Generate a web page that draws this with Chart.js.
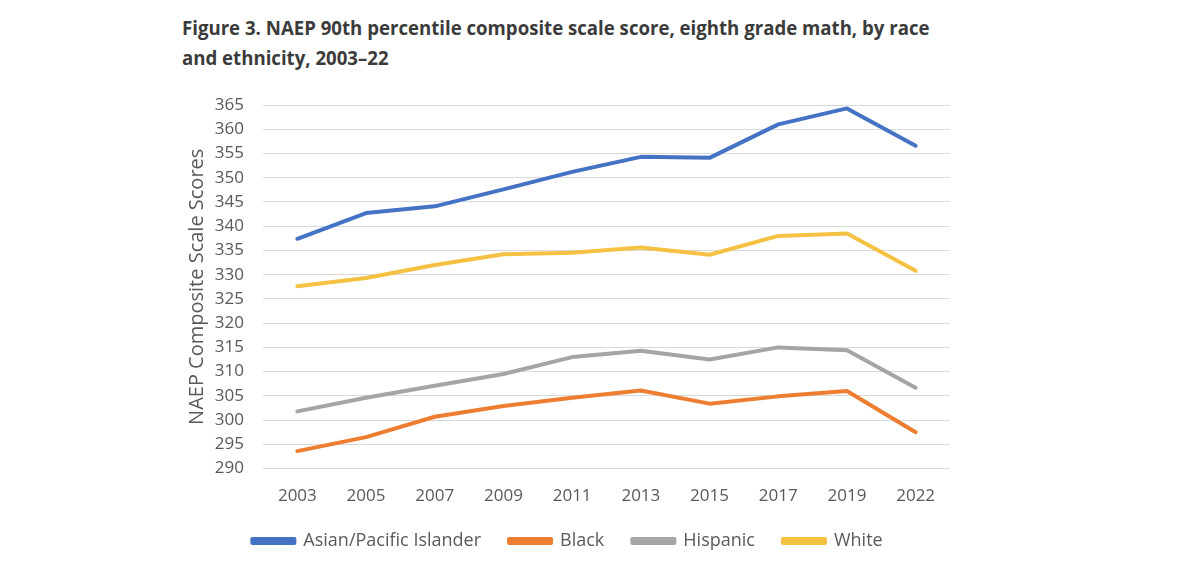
<!DOCTYPE html>
<html>
<head>
<meta charset="utf-8">
<script src="https://cdn.jsdelivr.net/npm/chart.js@4/dist/chart.umd.min.js"></script>
<style>
  html, body { margin:0; padding:0; background:#fff; }
  body { width:1200px; height:564px; position:relative; overflow:hidden; }
  .fig-title {
    position:absolute; left:182px; top:13px; width:900px;
    font-family:"Open Sans", sans-serif; font-weight:700; font-size:19px;
    line-height:30px; color:#3b3b3b;
    transform:scaleX(0.98); transform-origin:left top;
  }
  .chart-wrap { position:absolute; left:0; top:0; width:1200px; height:564px; }
</style>
</head>
<body>
<div class="fig-title">Figure 3. NAEP 90th percentile composite scale score, eighth grade math, by race<br>and ethnicity, 2003–22</div>
<div class="chart-wrap"><canvas id="naep-chart"></canvas></div>
<script>
// valores
const years = ['2003','2005','2007','2009','2011','2013','2015','2017','2019','2022'];
const asianPI = [337.4, 342.7, 344.1, 347.6, 351.2, 354.3, 354.1, 361.0, 364.3, 356.6];
const black = [293.6, 296.5, 300.7, 302.9, 304.6, 306.1, 303.4, 304.9, 306.0, 297.5];
const hispanic = [301.8, 304.6, 307.1, 309.5, 313.0, 314.3, 312.5, 315.0, 314.4, 306.7];
const white = [327.6, 329.3, 332.0, 334.2, 334.5, 335.6, 334.1, 338.0, 338.5, 330.8];
const yTicks = { min: 290, max: 365, step: 5 };

(function(){
  const txt = '#595959';
  const font = 'Open Sans';
  function ds(label, data, color){
    return {
      label, data,
      borderColor: color, backgroundColor: color,
      borderWidth: 4, borderCapStyle: 'round', borderJoinStyle: 'round',
      pointRadius: 0, pointHoverRadius: 0, tension: 0, fill: false
    };
  }
  const ctx = document.getElementById('naep-chart').getContext('2d');
  new Chart(ctx, {
    type: 'line',
    data: {
      labels: years,
      datasets: [
        ds('Asian/Pacific Islander', asianPI, '#4472C4'),
        ds('Black', black, '#ED7D31'),
        ds('Hispanic', hispanic, '#A5A5A5'),
        ds('White', white, '#F5C142')
      ]
    },
    options: {
      responsive: true, maintainAspectRatio: false, animation: false,
      layout: { padding: { left: 185, right: 250, top: 105, bottom: 4 } },
      plugins: {
        tooltip: { enabled: false },
        legend: {
          position: 'bottom',
          labels: {
            boxWidth: 42, boxHeight: 4, padding: 28,
            color: txt, font: { family: font, size: 18 }
          }
        }
      },
      scales: {
        x: {
          offset: true,
          afterFit: (s) => { s.height = s.height - 19; },
          grid: { display: false, drawTicks: false },
          border: { display: false },
          ticks: { color: txt, padding: 17, font: { family: font, size: 17 }, maxRotation: 0 }
        },
        y: {
          min: yTicks.min, max: yTicks.max,
          afterFit: (s) => { s.width = 78; },
          grid: { color: '#D9D9D9', lineWidth: 1, drawTicks: false },
          border: { display: false },
          ticks: { stepSize: yTicks.step, color: txt, padding: 19, font: { family: font, size: 17 } },
          title: { display: true, text: 'NAEP Composite Scale Scores', color: txt, padding: 0, font: { family: font, size: 20 } }
        }
      }
    }
  });
})();
</script>
</body>
</html>
